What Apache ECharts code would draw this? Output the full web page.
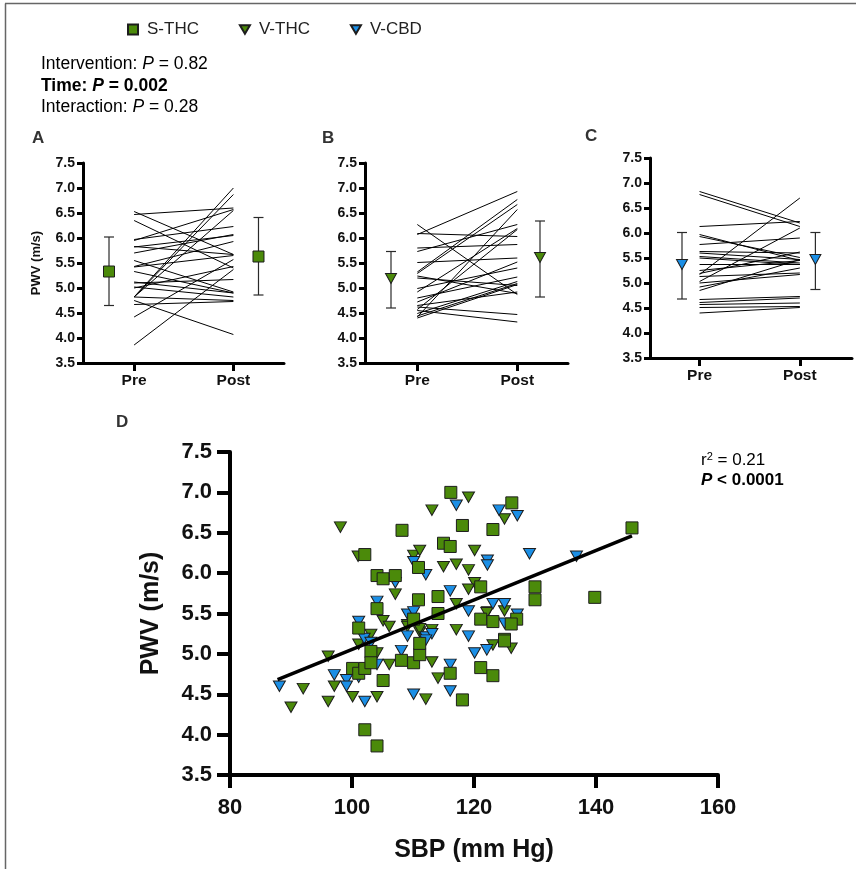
<!DOCTYPE html>
<html><head><meta charset="utf-8">
<script src="https://cdn.jsdelivr.net/npm/echarts@6/dist/echarts.min.js"></script>
<style>html,body{margin:0;padding:0;background:#fff}#c{width:856px;height:869px}</style>
</head><body><div id="c"></div>
<script>
// ---------------- DATA ----------------
const groups = ['S-THC', 'V-THC', 'V-CBD'];
const timeLabels = ['Pre', 'Post'];
const pwvTicks = [3.5, 4.0, 4.5, 5.0, 5.5, 6.0, 6.5, 7.0, 7.5];
const sbpTicks = [80, 100, 120, 140, 160];

// Panel A (S-THC) paired values
const aPre  = [6.53, 6.47, 6.35, 5.97, 5.95, 5.83, 5.82, 5.70, 5.43, 5.42, 5.33, 5.12, 5.10, 5.02, 5.00, 4.82, 4.82, 4.82, 4.82, 4.75, 4.67, 4.42, 3.86, 5.55];
const aPost = [5.67, 6.60, 5.40, 6.23, 6.57, 5.67, 6.05, 6.07, 5.93, 5.65, 4.90, 4.90, 5.17, 4.82, 5.43, 7.00, 6.87, 6.55, 4.75, 4.07, 4.73, 5.57, 5.37, 4.92];
const aMean = [5.33, 5.63];
const aLow  = [4.65, 4.86];
const aHigh = [6.02, 6.41];

// Panel B (V-THC)
const bPre  = [6.27, 6.07, 6.09, 5.80, 5.73, 5.51, 5.32, 5.29, 5.24, 5.20, 4.99, 4.92, 4.80, 4.72, 4.62, 4.57, 4.55, 4.49, 4.44, 4.42, 4.40, 4.65];
const bPost = [4.87, 6.93, 6.03, 5.87, 6.27, 5.60, 6.77, 6.67, 4.89, 5.05, 5.40, 6.19, 5.22, 5.52, 4.47, 6.17, 4.32, 5.13, 5.09, 6.57, 5.07, 4.92];
const bMean = [5.19, 5.61];
const bLow  = [4.60, 4.82];
const bHigh = [5.73, 6.34];

// Panel C (V-CBD)
const cPre  = [6.83, 6.77, 6.13, 5.97, 5.93, 5.17, 5.03, 5.77, 5.63, 5.60, 5.53, 5.50, 5.37, 5.25, 5.13, 5.00, 4.92, 4.85, 4.67, 4.61, 4.57, 4.51, 4.40, 5.19];
const cPost = [6.20, 6.13, 6.23, 5.45, 5.51, 6.70, 6.10, 5.90, 5.60, 5.47, 5.40, 5.37, 5.37, 5.45, 5.20, 5.17, 5.30, 5.47, 4.73, 4.70, 4.60, 4.53, 4.51, 5.62];
const cMean = [5.37, 5.47];
const cLow  = [4.68, 4.87];
const cHigh = [6.01, 6.01];

// Panel D scatter: [SBP, PWV]
const sthcPoints = [[108.2,6.53],[102.1,6.23],[110.9,6.07],[104.1,5.97],[105.1,5.93],[107.1,5.97],[110.9,5.67],[104.1,5.56],[110.1,5.43],[101.1,5.32],
  [116.2,7.00],[126.2,6.87],[118.1,6.59],[123.1,6.54],[115.0,6.37],[116.1,6.33],[121.1,5.83],[130.0,5.83],[130.0,5.67],[114.1,5.71],
  [114.1,5.50],[127.0,5.43],[121.1,5.43],[123.1,5.40],[126.1,5.37],[125.0,5.18],
  [100.1,4.82],[101.1,4.76],[102.1,4.82],[103.1,5.03],[103.1,4.89],[105.1,4.67],[108.1,4.92],[110.1,4.89],[111.1,4.99],[111.1,5.13],
  [116.1,4.76],[118.1,4.43],[102.1,4.06],[104.1,3.86],[121.1,4.83],[123.1,4.73],[125.0,5.16],[139.8,5.70],[145.9,6.56]];
const vthcPoints = [[98.1,6.57],[101.0,6.21],[110.1,6.22],[111.1,6.28],[107.1,5.74],[105.1,5.41],[106.1,5.34],[103.1,5.24],[109.1,5.36],
  [119.1,6.94],[113.1,6.78],[125.0,6.67],[120.1,6.28],[115.0,6.08],[117.1,6.11],[119.1,6.04],[120.1,5.88],[119.1,5.80],[117.1,5.62],[125.0,5.53],[122.2,5.52],[117.1,5.30],[113.1,5.30],[111.1,5.27],
  [92.0,4.57],[90.0,4.34],[96.1,4.97],[97.1,4.60],[96.1,4.41],[100.1,4.47],[104.1,4.47],[104.1,5.01],[106.1,4.87],[101.1,5.12],[113.1,4.90],[114.1,4.70],[112.1,4.44],[109.1,5.34],[111.1,5.31],[123.1,5.11],[126.1,5.07],[122.1,5.51]];
const vcbdPoints = [[110.1,6.14],[107.1,5.88],[104.1,5.65],[109.1,5.49],[110.1,5.52],[101.1,5.40],[109.1,5.22],[102.0,5.19],
  [117.1,6.84],[124.1,6.78],[127.1,6.71],[129.1,6.24],[122.2,6.16],[122.2,6.10],[112.1,5.98],[116.1,5.78],[119.1,5.53],[123.1,5.62],[125.0,5.62],[127.1,5.49],[125.0,5.38],[119.1,5.22],[112.1,5.21],
  [88.1,4.60],[97.1,4.74],[99.1,4.68],[99.1,4.60],[102.1,4.41],[101.1,4.71],[104.1,4.87],[103.1,5.14],[108.1,5.04],[110.1,4.50],[116.1,4.87],[116.1,4.54],[113.1,5.25],[112.1,5.17],[120.1,5.01],[122.1,5.05],[136.8,6.21]];
const fitLine = [[87.8, 4.68], [145.9, 6.46]];
const statsLines = ['Intervention: P = 0.82', 'Time: P = 0.002', 'Interaction: P = 0.28'];
const fitStats = ['0.21', '< 0.0001'];

// ---------------- STYLE / LAYOUT ----------------
const FONT = "'Liberation Sans', Arial, Helvetica, sans-serif";
const GREEN = '#4b8a0a', BLUE = '#1b8fe6', EDGE = '#1d1d1d';
const TRI = 'path://M0,0L10,0L5,8.5Z';
const groupStyle = {
  'S-THC': {symbol: 'rect', color: GREEN},
  'V-THC': {symbol: TRI, color: GREEN},
  'V-CBD': {symbol: TRI, color: BLUE}
};
const panels = [
  {grid: {left: 83, top: 163, width: 201, height: 200}, xmin: 0.485, xmax: 2.51, off: [-0.253, 0.253], pre: aPre, post: aPost, mean: aMean, lo: aLow, hi: aHigh, g: 'S-THC', yName: 'PWV (m/s)'},
  {grid: {left: 365, top: 163, width: 203, height: 200}, xmin: 0.477, xmax: 2.507, off: [-0.263, 0.227], pre: bPre, post: bPost, mean: bMean, lo: bLow, hi: bHigh, g: 'V-THC', yName: ''},
  {grid: {left: 650, top: 158, width: 202, height: 200}, xmin: 0.506, xmax: 2.52, off: [-0.175, 0.155], pre: cPre, post: cPost, mean: cMean, lo: cLow, hi: cHigh, g: 'V-CBD', yName: ''}
];

const grids = [], xAxes = [], yAxes = [], series = [];

panels.forEach((p, i) => {
  grids.push(p.grid);
  xAxes.push({
    gridIndex: i, type: 'value', min: p.xmin, max: p.xmax,
    axisLine: {lineStyle: {color: '#000', width: 3}},
    axisTick: {customValues: [1, 2], length: 8, lineStyle: {color: '#000', width: 3}},
    axisLabel: {customValues: [1, 2], formatter: v => timeLabels[Math.round(v) - 1], margin: 10,
      fontFamily: FONT, fontWeight: 'bold', fontSize: 15.5, color: '#111'},
    splitLine: {show: false}
  });
  yAxes.push({
    gridIndex: i, type: 'value', min: 3.5, max: 7.5, interval: 0.5,
    name: p.yName, nameLocation: 'middle', nameGap: 40,
    nameTextStyle: {fontFamily: FONT, fontWeight: 'bold', fontSize: 13, color: '#111'},
    axisLine: {show: true, lineStyle: {color: '#000', width: 3}},
    axisTick: {show: true, length: 6, lineStyle: {color: '#000', width: 3}},
    axisLabel: {formatter: v => v.toFixed(1), margin: 8, fontFamily: FONT, fontWeight: 'bold', fontSize: 14, color: '#111'},
    splitLine: {show: false}
  });
  series.push({
    type: 'lines', coordinateSystem: 'cartesian2d', xAxisIndex: i, yAxisIndex: i, silent: true,
    lineStyle: {color: '#000', width: 1, opacity: 1},
    data: p.pre.map((v, k) => ({coords: [[1, v], [2, p.post[k]]]})), z: 2
  });
  const ebData = p.mean.map((m, k) => [k + 1 + p.off[k], p.lo[k], p.hi[k]]);
  series.push({
    type: 'custom', xAxisIndex: i, yAxisIndex: i, silent: true, data: ebData, z: 3,
    encode: {x: 0, y: [1, 2]},
    renderItem(params, api) {
      const x = api.value(0);
      const a = api.coord([x, api.value(1)]), b = api.coord([x, api.value(2)]);
      const hw = 5, st = {stroke: '#2a2a2a', lineWidth: 1.2};
      return {type: 'group', children: [
        {type: 'line', shape: {x1: a[0], y1: a[1], x2: b[0], y2: b[1]}, style: st},
        {type: 'line', shape: {x1: a[0] - hw, y1: a[1], x2: a[0] + hw, y2: a[1]}, style: st},
        {type: 'line', shape: {x1: b[0] - hw, y1: b[1], x2: b[0] + hw, y2: b[1]}, style: st}
      ]};
    }
  });
  const gs = groupStyle[p.g];
  series.push({
    name: p.g + ' mean', type: 'scatter', xAxisIndex: i, yAxisIndex: i, silent: true, z: 5,
    symbol: gs.symbol, symbolSize: gs.symbol === 'rect' ? 11 : [11, 10],
    itemStyle: {color: gs.color, borderColor: EDGE, borderWidth: 1, opacity: 1},
    data: p.mean.map((m, k) => [k + 1 + p.off[k], m])
  });
});

// Panel D
const D = 3;
grids.push({left: 230, top: 452, width: 488, height: 323});
xAxes.push({
  gridIndex: D, type: 'value', min: 80, max: 160, interval: 20,
  name: 'SBP (mm Hg)', nameLocation: 'middle', nameGap: 63,
  nameTextStyle: {fontFamily: FONT, fontWeight: 'bold', fontSize: 25, color: '#111'},
  axisLine: {lineStyle: {color: '#000', width: 4}},
  axisTick: {length: 13, lineStyle: {color: '#000', width: 4}},
  axisLabel: {margin: 22, fontFamily: FONT, fontWeight: 'bold', fontSize: 22, color: '#111'},
  splitLine: {show: false}
});
yAxes.push({
  gridIndex: D, type: 'value', min: 3.5, max: 7.5, interval: 0.5,
  name: 'PWV (m/s)', nameLocation: 'middle', nameGap: 66,
  nameTextStyle: {fontFamily: FONT, fontWeight: 'bold', fontSize: 25, color: '#111'},
  axisLine: {show: true, lineStyle: {color: '#000', width: 4}},
  axisTick: {show: true, length: 13, lineStyle: {color: '#000', width: 4}},
  axisLabel: {formatter: v => v.toFixed(1), margin: 18, fontFamily: FONT, fontWeight: 'bold', fontSize: 22, color: '#111'},
  splitLine: {show: false}
});
const scatterSets = {'S-THC': sthcPoints, 'V-THC': vthcPoints, 'V-CBD': vcbdPoints};
['V-THC', 'V-CBD', 'S-THC'].forEach((g, k) => {
  const gs = groupStyle[g];
  series.push({
    name: g, type: 'scatter', xAxisIndex: D, yAxisIndex: D, z: 4 + k,
    symbol: gs.symbol, symbolSize: gs.symbol === 'rect' ? 12 : [12, 10.5],
    itemStyle: {color: gs.color, borderColor: EDGE, borderWidth: 1, opacity: 1},
    data: scatterSets[g]
  });
});
series.push({
  type: 'line', xAxisIndex: D, yAxisIndex: D, data: fitLine, symbol: 'none', silent: true, z: 10,
  lineStyle: {color: '#000', width: 3.5}
});

const txt = (x, y, rich, text, extra) => Object.assign({type: 'text', left: x, top: y, style: {text, rich, fontFamily: FONT}}, extra || {});
const baseRich = (size, color, weight) => ({
  n: {fontFamily: FONT, fontSize: size, color, fontWeight: weight},
  i: {fontFamily: FONT, fontSize: size, color, fontWeight: weight, fontStyle: 'italic'},
  s: {fontFamily: FONT, fontSize: size * 0.65, color, fontWeight: weight, verticalAlign: 'top', padding: [0, 0, 8, 0]}
});
const statRich = (s) => {
  const [lab, rest] = s.split(': ');
  const val = rest.replace('P ', '');
  return `{n|${lab}: }{i|P}{n| ${val}}`;
};
const letter = (x, y, t) => ({type: 'text', left: x, top: y, style: {text: t, fontFamily: FONT, fontSize: 17, fontWeight: 'bold', fill: '#333'}});

const graphic = [
  {type: 'line', shape: {x1: 5, y1: 3.5, x2: 856, y2: 3.5}, style: {stroke: '#666', lineWidth: 1.5}},
  {type: 'line', shape: {x1: 5.5, y1: 3.5, x2: 5.5, y2: 869}, style: {stroke: '#666', lineWidth: 1.5}},
  txt(41, 55, baseRich(17.5, '#555', 'normal'), statRich(statsLines[0])),
  txt(41, 77, baseRich(17.5, '#222', 'bold'), statRich(statsLines[1])),
  txt(41, 98, baseRich(17.5, '#555', 'normal'), statRich(statsLines[2])),
  letter(32, 130, 'A'), letter(322, 130, 'B'), letter(585, 128, 'C'), letter(116, 414, 'D'),
  txt(701, 451, baseRich(17, '#444', 'normal'), `{n|r}{s|2}{n| = ${fitStats[0]}}`),
  txt(701, 472, baseRich(17, '#222', 'bold'), `{i|P}{n| ${fitStats[1]}}`)
];

const chart = echarts.init(document.getElementById('c'), null, {renderer: 'canvas'});
chart.setOption({
  animation: false,
  backgroundColor: '#fff',
  legend: {
    top: 16, left: 122, itemWidth: 10, itemHeight: 10, itemGap: 40,
    textStyle: {fontFamily: FONT, fontSize: 17, color: '#222', padding: [0, 0, 0, 4]},
    data: groups.map(g => ({name: g, icon: groupStyle[g].symbol === 'rect' ? 'rect' : TRI}))
  },
  grid: grids, xAxis: xAxes, yAxis: yAxes, series, graphic
});
</script></body></html>
